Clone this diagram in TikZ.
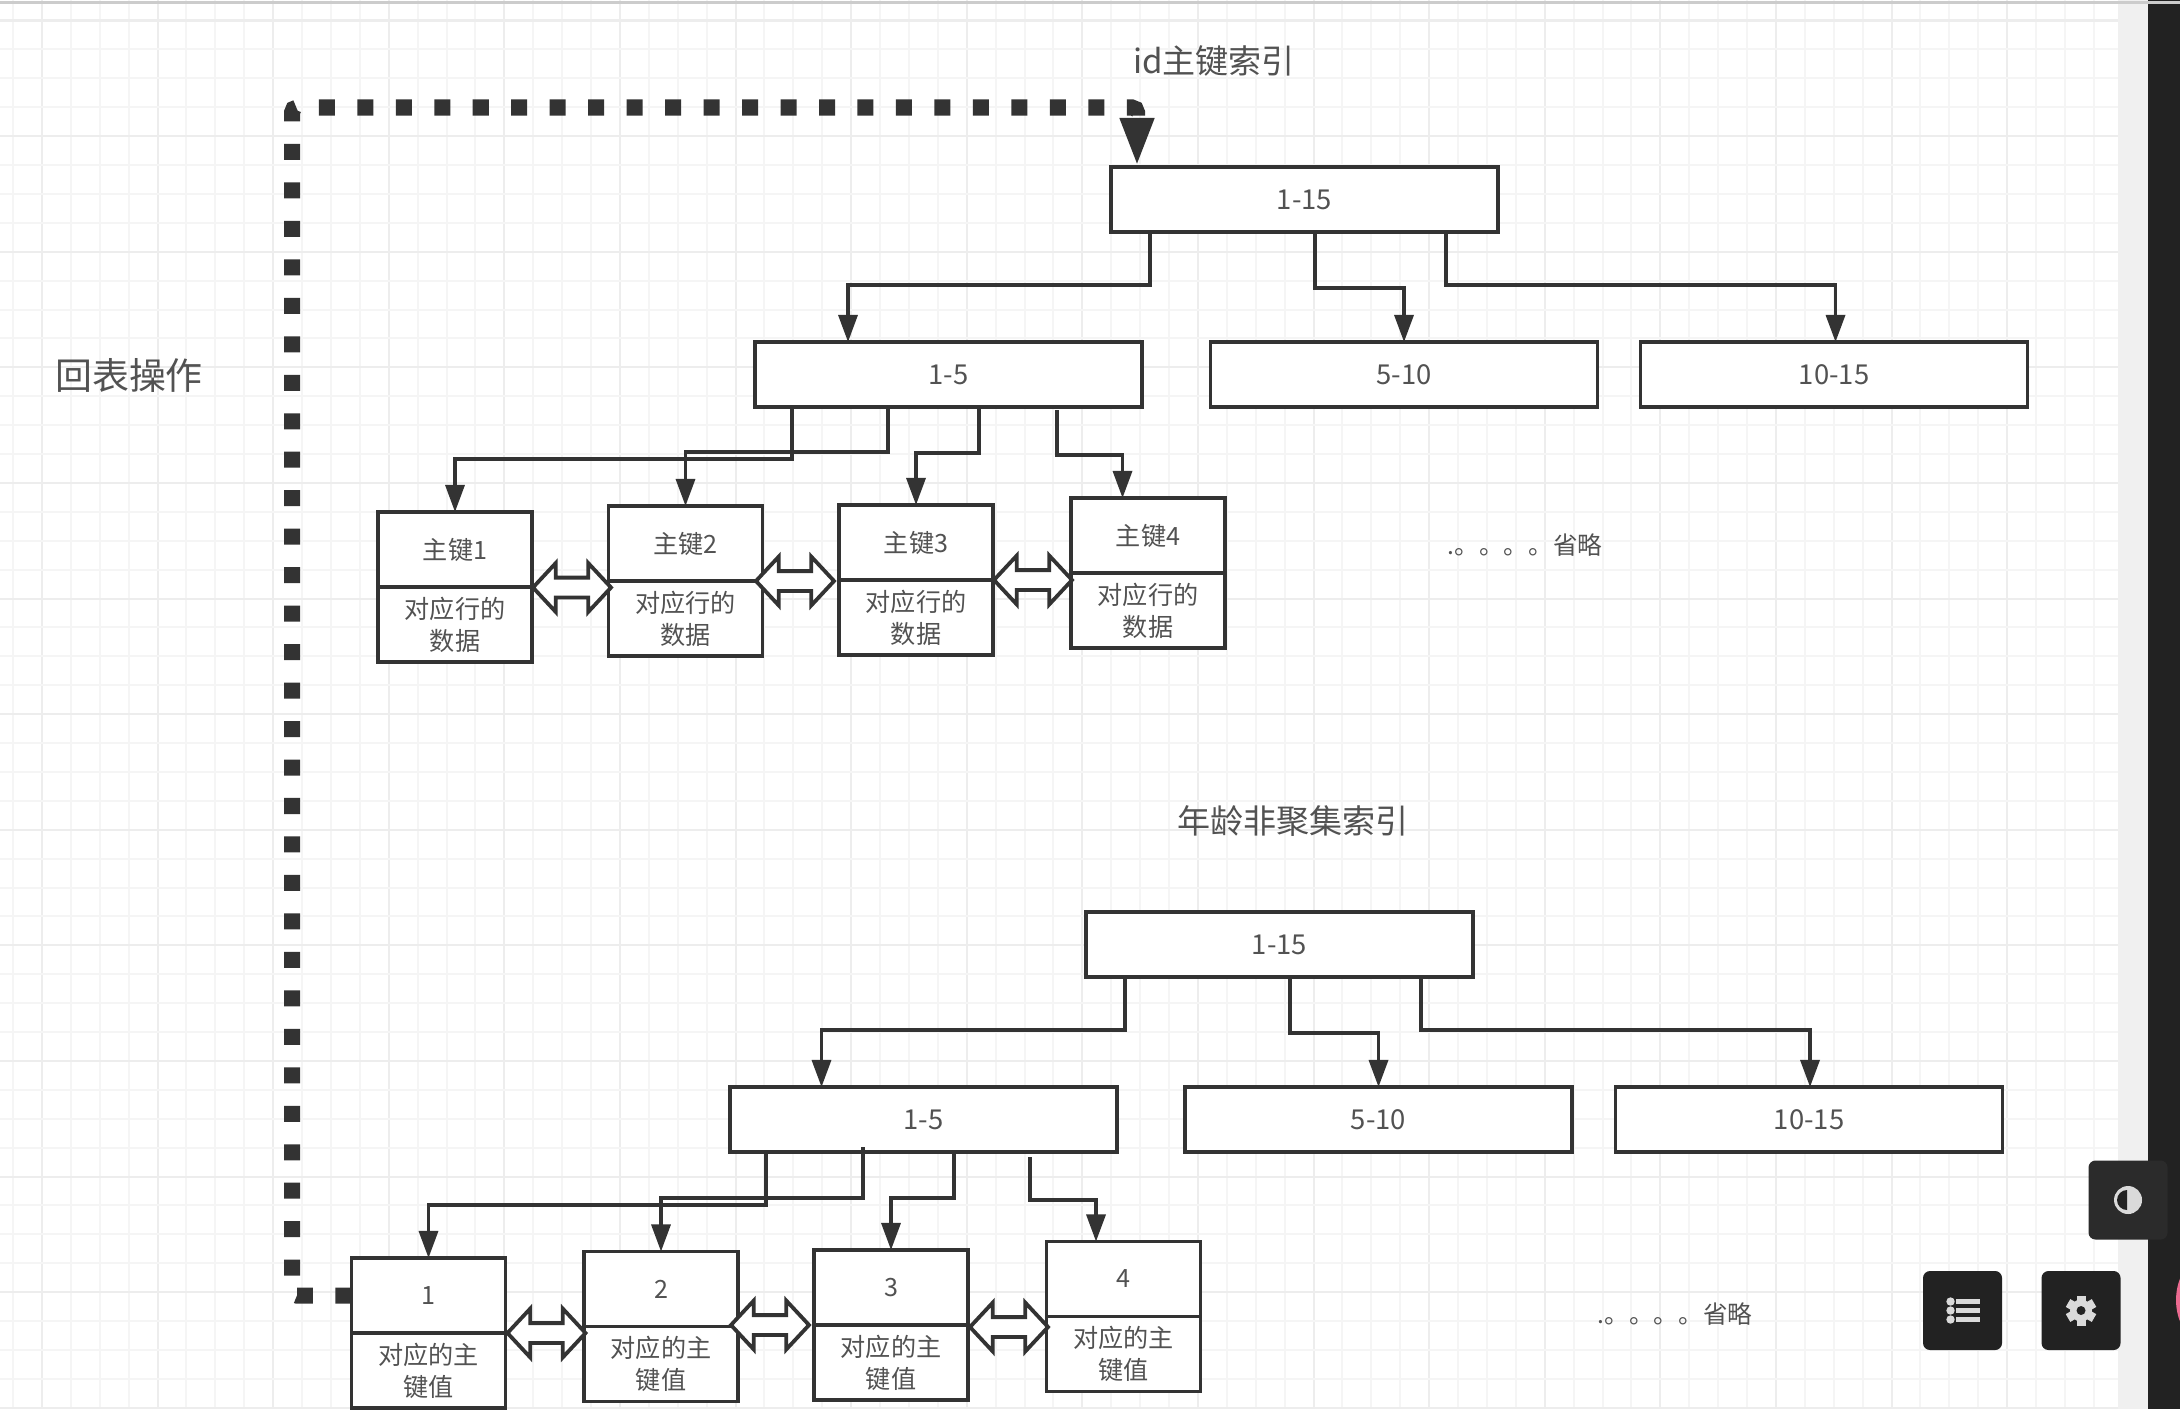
\documentclass[tikz,border=0pt]{standalone}
\usepackage{fontspec}
\setmainfont{Noto Sans CJK SC}
\usetikzlibrary{arrows.meta, shapes.arrows, positioning, calc}
\definecolor{inkgray}{RGB}{51,51,51}
\definecolor{textgray}{RGB}{82,82,82}
\definecolor{gridminor}{RGB}{245,245,245}
\definecolor{gridmajor}{RGB}{237,237,237}
\definecolor{panelgray}{RGB}{240,240,240}
\definecolor{sidedark}{RGB}{34,34,34}
\definecolor{iconlight}{RGB}{218,218,218}
\definecolor{avatarpink}{RGB}{236,106,144}

\begin{document}
\begin{tikzpicture}[
    x=0.01cm, y=-0.01cm,
    rangebox/.style={draw=inkgray, fill=white, line width=0.033cm, outer sep=0pt,
                 minimum width=3.87cm, minimum height=0.65cm,
                 text=textgray, font=\fontsize{7.8}{9.1}\selectfont},
    leafbox/.style={draw=inkgray, fill=white, line width=0.033cm, outer sep=0pt,
                 minimum width=1.54cm, minimum height=0.75cm, inner sep=0pt,
                 align=center, text=textgray, font=\fontsize{7.15}{9.1}\selectfont},
    titletext/.style={text=textgray, inner sep=0pt, font=\fontsize{9.4}{11}\selectfont},
    notetext/.style={text=textgray, inner sep=0pt, font=\fontsize{7}{9}\selectfont},
    arr/.style={draw=inkgray, line width=0.033cm, -{Triangle[length=0.27cm, width=0.19cm]}},
    backlink/.style={draw=inkgray, line width=0.16cm, rounded corners=0.05cm,
                 dash pattern=on 0.16cm off 0.2245cm,
                 -{Triangle[length=0.49cm, width=0.31cm]}},
    linkarrow/.style={double arrow, draw=inkgray, fill=white, line width=0.038cm,
                 minimum height=0.78cm, minimum width=0.45cm,
                 double arrow head extend=0.145cm, double arrow tip angle=94,
                 inner xsep=0pt, inner ysep=0.08cm, outer sep=0pt},
    uibtn/.style={fill=sidedark, rounded corners=0.07cm, minimum size=0.79cm, inner sep=0pt}
  ]
    \useasboundingbox (0,0) rectangle (2180,1409);
    \clip (0,0) rectangle (2180,1409);
    \fill[white] (0,0) rectangle (2180,1409);

    % canvas grid and the page chrome
    \foreach \k in {0,...,72} {
      \pgfmathsetmacro{\gx}{13+28.9*\k}
      \pgfmathtruncatemacro{\gm}{mod(\k,4)}
      \ifnum\gm=1 \draw[gridmajor, line width=0.02cm] (\gx,0) -- (\gx,1409);
      \else \draw[gridminor, line width=0.02cm] (\gx,0) -- (\gx,1409); \fi
    }
    \foreach \k in {0,...,48} {
      \pgfmathsetmacro{\gy}{20.5+28.9*\k}
      \pgfmathtruncatemacro{\gm}{mod(\k,4)}
      \ifnum\gm=0 \draw[gridmajor, line width=0.02cm] (0,\gy) -- (2118,\gy);
      \else \draw[gridminor, line width=0.02cm] (0,\gy) -- (2118,\gy); \fi
    }
    \fill[panelgray] (2118,0) rectangle (2148,1409);
    \fill[sidedark] (2148,0) rectangle (2180,1409);
    \fill[avatarpink] (2236,1300) circle (60);
    \draw[black!20, line width=0.03cm] (0,2.7) -- (2180,2.7);

    \node[titletext] (idtitle) at (1214,61) {id主键索引};
    \node[titletext, font=\fontsize{10.5}{12}\selectfont] (backtitle) at (129,375) {回表操作};
    \node[titletext] (agetitle) at (1293,821) {年龄非聚集索引};
    \node[notetext] (idnote) at (1525,545) {.。。。。省略};
    \node[notetext] (agenote) at (1675,1314) {.。。。。省略};

    % id index
    \node[rangebox] (idroot) at (1304.5,199.5) {1-15};
    \node[rangebox] (idmid1) at (948.5,374.5) {1-5};
    \node[rangebox] (idmid2) at (1404,374.5) {5-10};
    \node[rangebox] (idmid3) at (1834,374.5) {10-15};

    \node[leafbox] (idkey1) at (455,549.5) {主键1};
    \node[leafbox, below=0pt of idkey1] (idrow1) {对应行的\\数据};
    \node[leafbox] (idkey2) at (685.5,543.5) {主键2};
    \node[leafbox, below=0pt of idkey2] (idrow2) {对应行的\\数据};
    \node[leafbox] (idkey3) at (916,542.5) {主键3};
    \node[leafbox, below=0pt of idkey3] (idrow3) {对应行的\\数据};
    \node[leafbox] (idkey4) at (1148,535.5) {主键4};
    \node[leafbox, below=0pt of idkey4] (idrow4) {对应行的\\数据};

    \draw[arr] ($(idroot.south)+(-154.5,0)$) -- ++(0,53) -| ($(idmid1.north)+(-100.5,0)$);
    \draw[arr] ($(idroot.south)+(10.5,0)$) -- ++(0,56) -| (idmid2.north);
    \draw[arr] ($(idroot.south)+(141.5,0)$) -- ++(0,53) -| ($(idmid3.north)+(1.5,0)$);
    \draw[arr] ($(idmid1.south)+(-156.5,0)$) -- ++(0,52) -| (idkey1.north);
    \draw[arr] ($(idmid1.south)+(-60.5,0)$) -- ++(0,45) -| (idkey2.north);
    \draw[arr] ($(idmid1.south)+(30.5,0)$) -- ++(0,46) -| (idkey3.north);
    \draw[arr] ($(idmid1.south)+(108.5,3)$) -- ++(0,45) -| ($(idkey4.north)+(-25.5,0)$);

    \node[linkarrow] (idlink1) at (572,587.5) {};
    \node[linkarrow] (idlink2) at (795,581) {};
    \node[linkarrow] (idlink3) at (1033,580) {};

    % age index
    \node[rangebox] (ageroot) at (1279.5,944.5) {1-15};
    \node[rangebox] (agemid1) at (923.5,1119.5) {1-5};
    \node[rangebox] (agemid2) at (1378.5,1119.5) {5-10};
    \node[rangebox] (agemid3) at (1809,1119.5) {10-15};

    \node[leafbox] (agekey1) at (428.5,1295.5) {1};
    \node[leafbox, below=0pt of agekey1] (agerow1) {对应的主\\键值};
    \node[leafbox] (agekey2) at (661,1289) {2};
    \node[leafbox, below=0pt of agekey2] (agerow2) {对应的主\\键值};
    \node[leafbox] (agekey3) at (891,1287.5) {3};
    \node[leafbox, below=0pt of agekey3] (agerow3) {对应的主\\键值};
    \node[leafbox] (agekey4) at (1123.5,1279) {4};
    \node[leafbox, below=0pt of agekey4] (agerow4) {对应的主\\键值};

    \draw[arr] ($(ageroot.south)+(-154.5,0)$) -- ++(0,53) -| ($(agemid1.north)+(-102,0)$);
    \draw[arr] ($(ageroot.south)+(10.5,0)$) -- ++(0,56) -| (agemid2.north);
    \draw[arr] ($(ageroot.south)+(141.5,0)$) -- ++(0,53) -| ($(agemid3.north)+(1,0)$);
    \draw[arr] ($(agemid1.south)+(-157.5,0)$) -- ++(0,53) -| (agekey1.north);
    \draw[arr] ($(agemid1.south)+(-60.5,-5)$) -- ++(0,51) -| (agekey2.north);
    \draw[arr] ($(agemid1.south)+(30.5,0)$) -- ++(0,46) -| (agekey3.north);
    \draw[arr] ($(agemid1.south)+(106.5,5)$) -- ++(0,43) -| ($(agekey4.north)+(-27.5,0)$);

    \node[linkarrow] (agelink1) at (546.5,1333) {};
    \node[linkarrow] (agelink2) at (770,1325) {};
    \node[linkarrow] (agelink3) at (1009,1327) {};

    % the jump back to the id index
    \coordinate (backcorner) at (292,107.5);
    \draw[backlink] (agekey1.west) -| (backcorner) -| ($(idroot.north)+(-167.5,0)$);

    % viewer buttons
    \node[uibtn, fill=sidedark!96!white] (themebtn) at (2128,1200) {};
    \node[uibtn] (listbtn) at (1962.5,1310.5) {};
    \node[uibtn] (gearbtn) at (2081,1310.5) {};

    \fill[iconlight] (themebtn.center) circle (14);
    \fill[sidedark] ($(themebtn.center)+(-1,-10)$) arc (270:90:10) -- cycle;

    \foreach \dy in {-9,0,9} {
      \fill[iconlight] ($(listbtn.center)+(-12,\dy)$) circle (4.2);
      \fill[iconlight] ($(listbtn.center)+(-7,\dy-2.8)$) rectangle ($(listbtn.center)+(17,\dy+2.8)$);
    }

    \fill[iconlight] (gearbtn.center) circle (11);
    \foreach \a in {30,90,150,210,270,330} {
      \fill[iconlight, rotate around={\a:(gearbtn.center)}]
        ($(gearbtn.center)+(8,-4.5)$) rectangle ($(gearbtn.center)+(15,4.5)$);
    }
    \fill[sidedark] (gearbtn.center) circle (4.5);
  \end{tikzpicture}
\end{document}
